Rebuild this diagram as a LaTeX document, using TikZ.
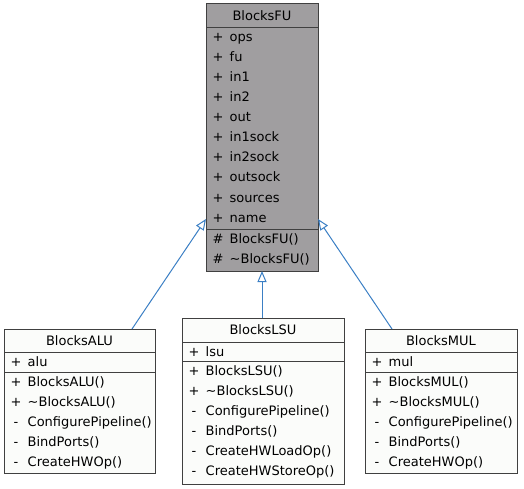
\documentclass[tikz,border=0pt]{standalone}
\usepackage{fontspec}
\setmainfont{DejaVu Sans}
\usetikzlibrary{arrows.meta}
\definecolor{fugray}{HTML}{A09EA0}
\definecolor{boxfill}{HTML}{FBFCFA}
\definecolor{edgecol}{HTML}{404040}
\definecolor{inhblue}{HTML}{3B7FC4}
\tikzset{
  classbox/.style={draw=edgecol, line width=1pt, anchor=north west, inner sep=0pt, outer sep=0pt},
  sepline/.style={draw=edgecol, line width=1pt},
  rowtxt/.style={anchor=base west, inner sep=0pt, font=\fontsize{13}{15}\selectfont},
  symtxt/.style={anchor=base, inner sep=0pt, font=\fontsize{13}{15}\selectfont},
  ttltxt/.style={anchor=base, inner sep=0pt, font=\fontsize{13}{15}\selectfont},
  inhline/.style={draw=inhblue, line width=1pt, -{Triangle[open, length=11pt, width=9pt]}}
}
\begin{document}
\begin{tikzpicture}[x=1pt, y=-1pt]
\useasboundingbox (0,0) rectangle (524,489);

% ---------- BlocksFU ----------
\node[classbox, fill=fugray, minimum width=112pt, minimum height=267pt] (fu) at (206,4) {};
\draw[sepline] (206,28) -- (318,28);
\draw[sepline] (206,229) -- (318,229);
\node[ttltxt] (fu-title) at (262,21) {BlocksFU};
\foreach \n [count=\i from 0] in {ops,fu,in1,in2,out,in1sock,in2sock,outsock,sources,name} {
  \node[symtxt] (fu-s\i) at (218,42+20*\i) {+};
  \node[rowtxt] (fu-a\i) at (229.5,42+20*\i) {\n};
}
\node[symtxt] (fu-m0s) at (218,243) {\#};
\node[rowtxt] (fu-m0) at (229.5,243) {BlocksFU()};
\node[symtxt] (fu-m1s) at (218,263) {\#};
\node[rowtxt] (fu-m1) at (229.5,263) {\textasciitilde BlocksFU()};

% ---------- BlocksALU ----------
\node[classbox, fill=boxfill, minimum width=151pt, minimum height=144pt] (alu) at (4,329) {};
\draw[sepline] (4,352) -- (155,352);
\draw[sepline] (4,372) -- (155,372);
\node[ttltxt] (alu-title) at (79.5,345) {BlocksALU};
\node[symtxt] (alu-s0) at (16,366) {+};
\node[rowtxt] (alu-a0) at (27.5,366) {alu};
\foreach \s/\n [count=\i from 0] in {+/BlocksALU(),+/\textasciitilde BlocksALU(),-/ConfigurePipeline(),-/BindPorts(),-/CreateHWOp()} {
  \node[symtxt] (alu-ms\i) at (16,386+20*\i) {\s};
  \node[rowtxt] (alu-m\i) at (27.5,386+20*\i) {\n};
}

% ---------- BlocksLSU ----------
\node[classbox, fill=boxfill, minimum width=162pt, minimum height=166pt] (lsu) at (182,318) {};
\draw[sepline] (182,342) -- (344,342);
\draw[sepline] (182,361) -- (344,361);
\node[ttltxt] (lsu-title) at (263,334) {BlocksLSU};
\node[symtxt] (lsu-s0) at (194,356) {+};
\node[rowtxt] (lsu-a0) at (205.5,356) {lsu};
\foreach \s/\n [count=\i from 0] in {+/BlocksLSU(),+/\textasciitilde BlocksLSU(),-/ConfigurePipeline(),-/BindPorts(),-/CreateHWLoadOp(),-/CreateHWStoreOp()} {
  \node[symtxt] (lsu-ms\i) at (194,375+20*\i) {\s};
  \node[rowtxt] (lsu-m\i) at (205.5,375+20*\i) {\n};
}

% ---------- BlocksMUL ----------
\node[classbox, fill=boxfill, minimum width=152pt, minimum height=144pt] (mul) at (365,329) {};
\draw[sepline] (365,352) -- (517,352);
\draw[sepline] (365,372) -- (517,372);
\node[ttltxt] (mul-title) at (441,345) {BlocksMUL};
\node[symtxt] (mul-s0) at (377,366) {+};
\node[rowtxt] (mul-a0) at (388.5,366) {mul};
\foreach \s/\n [count=\i from 0] in {+/BlocksMUL(),+/\textasciitilde BlocksMUL(),-/ConfigurePipeline(),-/BindPorts(),-/CreateHWOp()} {
  \node[symtxt] (mul-ms\i) at (377,386+20*\i) {\s};
  \node[rowtxt] (mul-m\i) at (388.5,386+20*\i) {\n};
}

% ---------- inheritance ----------
\draw[inhline] ([xshift=52.5pt]alu.north) -- ([yshift=-81.5pt]fu.west);
\draw[inhline] (fu.south |- lsu.north) -- (fu.south);
\draw[inhline] ([xshift=-49pt]mul.north) -- ([yshift=-81.5pt]fu.east);
\end{tikzpicture}
\end{document}
